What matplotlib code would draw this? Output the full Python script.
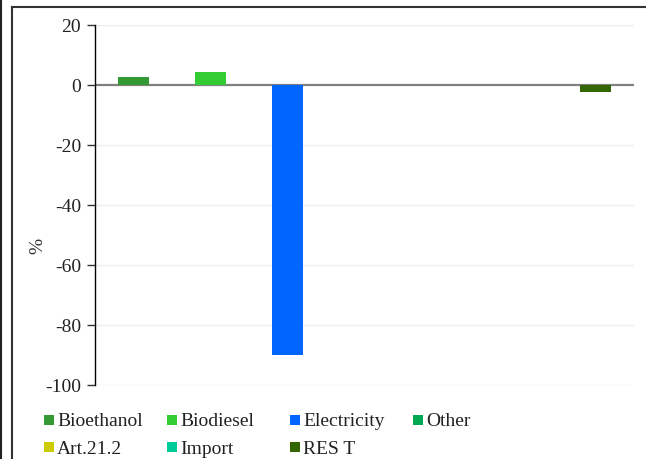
import matplotlib
matplotlib.use("Agg")
import matplotlib.pyplot as plt
from matplotlib.lines import Line2D
from matplotlib.patches import Rectangle

plt.rcParams['font.family'] = ['Liberation Serif', 'DejaVu Serif']

categories = ["Bioethanol", "Biodiesel", "Electricity", "Other", "Art.21.2", "Import", "RES T"]
values = [2.7, 4.3, -90.0, 0.0, 0.0, 0.0, -2.3]
colors = ["#339933", "#33CC33", "#0066FF", "#00AA55", "#CCCC00", "#00CC99", "#336600"]
yticks = [20, 0, -20, -40, -60, -80, -100]

W, H = 646, 459
fig = plt.figure(figsize=(W / 100, H / 100), dpi=100)
ax = fig.add_axes([95 / W, 1 - 385 / H, (634 - 95) / W, (385 - 25) / H])

x = list(range(len(categories)))
ax.bar(x, values, width=0.4, color=colors, zorder=3)

ax.set_xlim(-0.5, len(categories) - 0.5)
ax.set_ylim(-100, 20)
ax.set_yticks(yticks)
ax.set_yticklabels([str(t) for t in yticks], fontsize=14, color="#222222")
ax.set_xticks([])

for t in yticks:
    if t != 0:
        ax.axhline(t, color="#eeeeee", lw=1.0, zorder=1)
ax.axhline(0, color="#808080", lw=1.6, zorder=2)

for s in ["top", "right", "bottom"]:
    ax.spines[s].set_visible(False)
ax.spines["left"].set_color("black")
ax.spines["left"].set_linewidth(1.0)
ax.tick_params(axis="y", direction="out", length=6, width=1, color="#333333", pad=4)
ax.set_ylabel("%", fontsize=14, color="#333333")
ax.yaxis.set_label_coords((46 - 95) / 539, 0.386)

# legend laid out row by row, four entries per row
ncol = 4
col_x = [44, 167, 290, 413]
row_y = [420, 447]
box = 9.5
for i, (name, c) in enumerate(zip(categories, colors)):
    r, k = divmod(i, ncol)
    px, py = col_x[k], row_y[r]
    fig.add_artist(Rectangle((px / W, 1 - (py + box / 2) / H), box / W, box / H,
                             transform=fig.transFigure, facecolor=c, edgecolor="none"))
    fig.text((px + 13) / W, 1 - py / H, name, fontsize=14, color="#222222",
             ha="left", va="center_baseline")

# outer frame lines
fig.add_artist(Line2D([1 / W, 1 / W], [0, 1], transform=fig.transFigure,
                      color="#222222", lw=1.5))
fig.add_artist(Line2D([11.5 / W, 11.5 / W], [0, 1 - 7 / H], transform=fig.transFigure,
                      color="#333333", lw=1.5))
fig.add_artist(Line2D([11.5 / W, 1], [1 - 7 / H, 1 - 7 / H], transform=fig.transFigure,
                      color="#333333", lw=1.5))

fig.savefig("out.png", dpi=100)
